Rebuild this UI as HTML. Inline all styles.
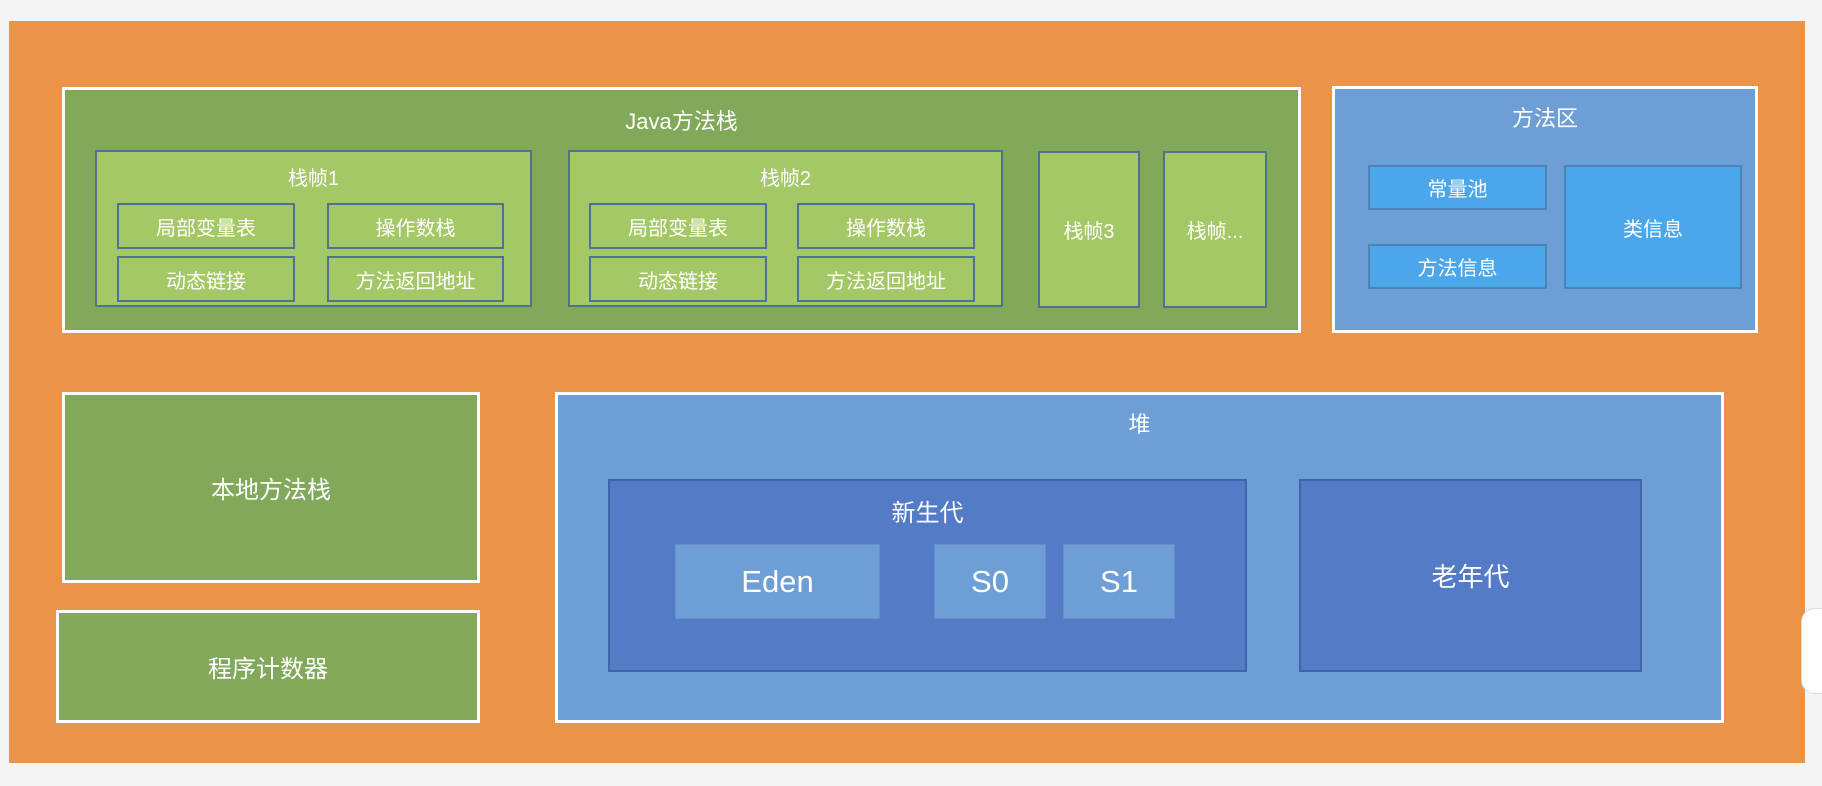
<!DOCTYPE html>
<html><head><meta charset="utf-8"><style>
body{margin:0;width:1822px;height:786px;background:#f4f4f4;position:relative;overflow:hidden;font-family:"Liberation Sans","Noto Sans CJK SC",sans-serif;color:#fff}
div{position:absolute;box-sizing:border-box}
.c{display:flex;align-items:center;justify-content:center}
.t{position:absolute;left:0;right:0;text-align:center}
.ow{border:3px solid #fff}
.ib{border:2px solid #4f7194}
.lg{background:#a3c865}
</style></head><body>
<div style="left:9px;top:21px;width:1796px;height:742px;background:#ea9449"></div>

<div class="ow" style="left:62px;top:87px;width:1239px;height:246px;background:#82a95a"><div class="t" style="top:14px;font-size:22px">Java方法栈</div></div>
<div class="ib lg" style="left:95px;top:150px;width:437px;height:157px"><div class="t" style="top:10px;font-size:20px">栈帧1</div></div>
<div class="ib lg c" style="left:117px;top:203px;width:178px;height:46px;font-size:20px">局部变量表</div>
<div class="ib lg c" style="left:327px;top:203px;width:177px;height:46px;font-size:20px">操作数栈</div>
<div class="ib lg c" style="left:117px;top:256px;width:178px;height:46px;font-size:20px">动态链接</div>
<div class="ib lg c" style="left:327px;top:256px;width:177px;height:46px;font-size:20px">方法返回地址</div>
<div class="ib lg" style="left:568px;top:150px;width:435px;height:157px"><div class="t" style="top:10px;font-size:20px">栈帧2</div></div>
<div class="ib lg c" style="left:589px;top:203px;width:178px;height:46px;font-size:20px">局部变量表</div>
<div class="ib lg c" style="left:797px;top:203px;width:178px;height:46px;font-size:20px">操作数栈</div>
<div class="ib lg c" style="left:589px;top:256px;width:178px;height:46px;font-size:20px">动态链接</div>
<div class="ib lg c" style="left:797px;top:256px;width:178px;height:46px;font-size:20px">方法返回地址</div>
<div class="ib lg c" style="left:1038px;top:151px;width:102px;height:157px;font-size:20px">栈帧3</div>
<div class="ib lg c" style="left:1163px;top:151px;width:104px;height:157px;font-size:20px">栈帧...</div>

<div class="ow" style="left:1332px;top:86px;width:426px;height:247px;background:#6d9fd6"><div class="t" style="top:12px;font-size:22px">方法区</div></div>
<div class="c" style="left:1368px;top:165px;width:179px;height:45px;background:#4ba6ea;border:2px solid #4a84b8;font-size:20px">常量池</div>
<div class="c" style="left:1368px;top:244px;width:179px;height:45px;background:#4ba6ea;border:2px solid #4a84b8;font-size:20px">方法信息</div>
<div class="c" style="left:1564px;top:165px;width:178px;height:124px;background:#4ba6ea;border:2px solid #4a84b8;font-size:20px">类信息</div>

<div class="ow c" style="left:62px;top:392px;width:418px;height:191px;background:#82a95a;font-size:24px">本地方法栈</div>
<div class="ow c" style="left:56px;top:610px;width:424px;height:113px;background:#82a95a;font-size:24px">程序计数器</div>

<div class="ow" style="left:555px;top:392px;width:1169px;height:331px;background:#6d9fd6"><div class="t" style="top:12px;font-size:22px">堆</div></div>
<div style="left:608px;top:479px;width:639px;height:193px;background:#537bc6;border:2px solid #3f64a8"><div class="t" style="top:12px;font-size:24px">新生代</div></div>
<div class="c" style="left:675px;top:544px;width:205px;height:75px;background:#6d9fd6;border:1px solid #6a8cc8;font-size:31px">Eden</div>
<div class="c" style="left:934px;top:544px;width:112px;height:75px;background:#6d9fd6;border:1px solid #6a8cc8;font-size:31px">S0</div>
<div class="c" style="left:1063px;top:544px;width:112px;height:75px;background:#6d9fd6;border:1px solid #6a8cc8;font-size:31px">S1</div>
<div class="c" style="left:1299px;top:479px;width:343px;height:193px;background:#537bc6;border:2px solid #3f64a8;font-size:26px">老年代</div>

<div style="left:1801px;top:608px;width:30px;height:86px;background:#fff;border-radius:14px 0 0 14px;border:1px solid #ddd"></div>
</body></html>
